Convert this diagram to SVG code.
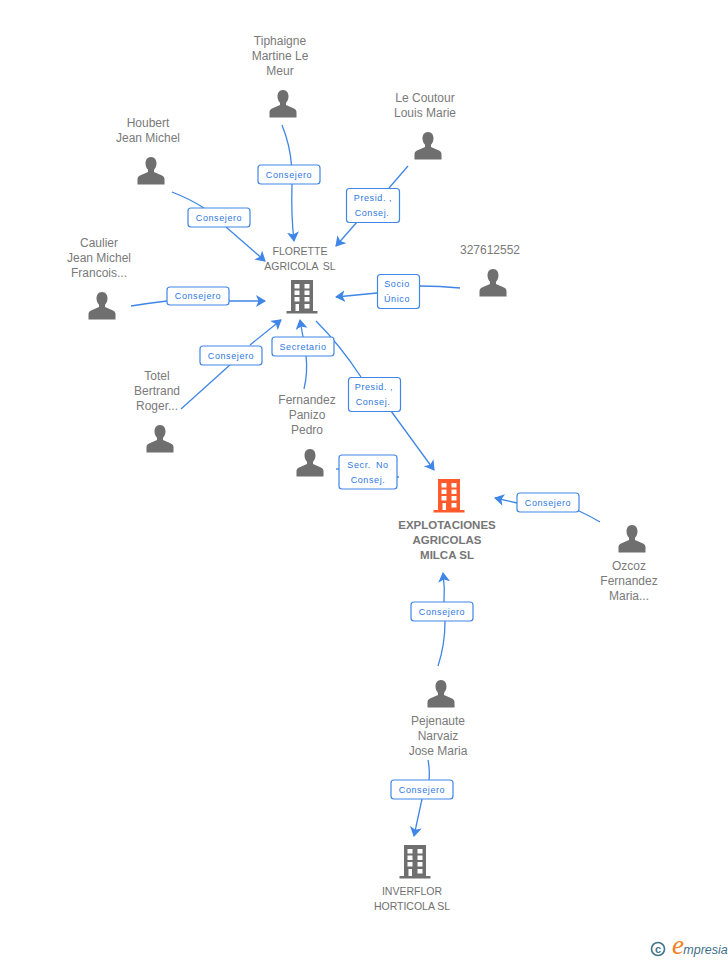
<svg xmlns="http://www.w3.org/2000/svg" width="728" height="960" viewBox="0 0 728 960">
<style>
text{font-family:"Liberation Sans",Arial,sans-serif;text-anchor:middle}
.n{font-size:12px;fill:#7a7a7a}
.s{font-size:10.5px;fill:#6f6f6f}
.b{font-size:11.5px;font-weight:bold;fill:#767676}
.l{font-size:9px;fill:#2f78e0;letter-spacing:.6px}
.c{fill:none;stroke:#3f86e6;stroke-width:1.3}
.box{fill:#fff;stroke:#3f86e6;stroke-width:1.2}
.p{fill:#6f6f6f}
</style>
<defs>
<marker id="a" markerUnits="userSpaceOnUse" markerWidth="12" markerHeight="14" refX="9" refY="6" orient="auto"><path d="M0 0L10 6L0 12L2.500 6Z" fill="#3f86e6"/></marker>
<g id="person"><path d="M0-14c-4 0-5.500 3.300-5.500 6.500 0 2.500 1 4.800 2.500 6.200v2.300l-8 3.500c-1.700.8-2.500 2-2.500 3.500v5.500h27v-5.500c0-1.500-.8-2.700-2.500-3.500l-8-3.500v-2.300c1.500-1.400 2.500-3.700 2.500-6.200 0-3.200-1.500-6.500-5.500-6.500Z" class="p"/></g>
<g id="bld"><path fill-rule="evenodd" d="M-11-16h22v31h4.500v2.500h-31v-2.500h4.500ZM-7.500-12v4.500h5v-4.500ZM2.500-12v4.500h5v-4.500ZM-7.500-5.500v4.500h5v-4.500ZM2.500-5.500v4.500h5v-4.500ZM-7.500 1v4.500h5v-4.500ZM2.500 1v4.500h5v-4.500ZM-6.500 8v7h3.500v-7ZM2.500 8v4.500h5v-4.500Z"/></g>
</defs>
<g id="connectors">
<path class="c" d="M282 125Q290 145 291.500 165"/><path class="c" d="M292 184Q291 215 294 241" marker-end="url(#a)"/>
<path class="c" d="M172 192Q190 199 204 208"/><path class="c" d="M226 227L265 261" marker-end="url(#a)"/>
<path class="c" d="M408 166L389 188"/><path class="c" d="M357 222L336 246" marker-end="url(#a)"/>
<path class="c" d="M131 306Q150 303 167 301"/><path class="c" d="M229 301L265 301" marker-end="url(#a)"/>
<path class="c" d="M460 288Q440 286 420 286"/><path class="c" d="M377 293L336 297" marker-end="url(#a)"/>
<path class="c" d="M181 409L231 364"/><path class="c" d="M250 345L281 320" marker-end="url(#a)"/>
<path class="c" d="M304 389Q308 372 306 356"/><path class="c" d="M303 337L300 320" marker-end="url(#a)"/>
<path class="c" d="M316 321Q340 345 361 377"/><path class="c" d="M391 411L434 470" marker-end="url(#a)"/>
<path class="c" d="M336 469L339 469"/><path class="c" d="M397 477L399 477"/>
<path class="c" d="M600 522Q590 516 579 511"/><path class="c" d="M517 503L495 498" marker-end="url(#a)"/>
<path class="c" d="M438 666Q445 645 445 621"/><path class="c" d="M444 602Q445 588 443 573" marker-end="url(#a)"/>
<path class="c" d="M428 760Q430 770 429 780"/><path class="c" d="M422 799L414 836" marker-end="url(#a)"/>
</g>
<g id="n-tiphaigne"><text class="n" x="280" y="45">Tiphaigne</text><text class="n" x="280" y="60">Martine Le</text><text class="n" x="280" y="75">Meur</text><use href="#person" x="283" y="104"/></g>
<g id="n-houbert"><text class="n" x="148" y="127">Houbert</text><text class="n" x="148" y="142">Jean Michel</text><use href="#person" x="151" y="171"/></g>
<g id="n-lecoutour"><text class="n" x="425" y="102">Le Coutour</text><text class="n" x="425" y="117">Louis Marie</text><use href="#person" x="428" y="146"/></g>
<g id="n-caulier"><text class="n" x="99" y="247">Caulier</text><text class="n" x="99" y="262">Jean Michel</text><text class="n" x="99" y="277">Francois...</text><use href="#person" x="102" y="306"/></g>
<g id="n-327612552"><text class="n" x="490" y="254">327612552</text><use href="#person" x="493" y="283"/></g>
<g id="n-florette" fill="#6f6f6f"><text class="s" x="300" y="255">FLORETTE</text><text class="s" x="300" y="270" word-spacing="2">AGRICOLA SL</text><use href="#bld" x="302" y="296"/></g>
<g id="n-totel"><text class="n" x="157" y="380">Totel</text><text class="n" x="157" y="395">Bertrand</text><text class="n" x="157" y="410">Roger...</text><use href="#person" x="160" y="439"/></g>
<g id="n-fernandez"><text class="n" x="307" y="404">Fernandez</text><text class="n" x="307" y="419">Panizo</text><text class="n" x="307" y="434">Pedro</text><use href="#person" x="310" y="463"/></g>
<g id="n-explotaciones" fill="#ff5a2c"><use href="#bld" x="449" y="495"/><text class="b" x="447" y="529">EXPLOTACIONES</text><text class="b" x="447" y="544">AGRICOLAS</text><text class="b" x="447" y="559">MILCA SL</text></g>
<g id="n-ozcoz"><use href="#person" x="632" y="539"/><text class="n" x="629" y="570">Ozcoz</text><text class="n" x="629" y="585">Fernandez</text><text class="n" x="629" y="600">Maria...</text></g>
<g id="n-pejenaute"><use href="#person" x="441" y="694"/><text class="n" x="438" y="725">Pejenaute</text><text class="n" x="438" y="740">Narvaiz</text><text class="n" x="438" y="755">Jose Maria</text></g>
<g id="n-inverflor" fill="#6f6f6f"><use href="#bld" x="415" y="861"/><text class="s" x="412" y="895">INVERFLOR</text><text class="s" x="412" y="910">HORTICOLA SL</text></g>
<g id="labels">
<rect class="box" x="258" y="165" width="62" height="19" rx="3"/><text class="l" x="289" y="178">Consejero</text>
<rect class="box" x="188" y="208" width="62" height="19" rx="3"/><text class="l" x="219" y="221">Consejero</text>
<rect class="box" x="346.500" y="188.500" width="53" height="34" rx="3"/><text class="l" x="373" y="201">Presid. ,</text><text class="l" x="372" y="216">Consej.</text>
<rect class="box" x="167" y="287" width="62" height="18" rx="3"/><text class="l" x="198" y="299">Consejero</text>
<rect class="box" x="377.500" y="274.500" width="42" height="34" rx="3"/><text class="l" x="397" y="287">Socio</text><text class="l" x="397" y="302">Único</text>
<rect class="box" x="200" y="346" width="62" height="19" rx="3"/><text class="l" x="231" y="359">Consejero</text>
<rect class="box" x="272" y="337" width="62" height="19" rx="3"/><text class="l" x="303" y="350">Secretario</text>
<rect class="box" x="348.500" y="377.500" width="52" height="34" rx="3"/><text class="l" x="374" y="390">Presid. ,</text><text class="l" x="373" y="405">Consej.</text>
<rect class="box" x="339" y="455" width="58" height="34" rx="3"/><text class="l" x="368" y="468" word-spacing="2">Secr. No</text><text class="l" x="368" y="483">Consej.</text>
<rect class="box" x="517" y="493" width="62" height="19" rx="3"/><text class="l" x="548" y="506">Consejero</text>
<rect class="box" x="411" y="602" width="62" height="19" rx="3"/><text class="l" x="442" y="615">Consejero</text>
<rect class="box" x="391" y="780" width="62" height="19" rx="3"/><text class="l" x="422" y="793">Consejero</text>
</g>
<g id="logo"><circle cx="658" cy="949" r="6.500" fill="none" stroke="#3f7488" stroke-width="1.600"/><text x="658" y="953" style="font-size:11px;font-weight:bold;fill:#3f7488">c</text><text x="678" y="954" style="font-size:27px;font-style:italic;fill:#f08020;font-family:'Liberation Serif',serif">e</text><text x="705.500" y="954" style="font-size:12.500px;font-style:italic;fill:#3f6f88">mpresia</text></g>
</svg>
